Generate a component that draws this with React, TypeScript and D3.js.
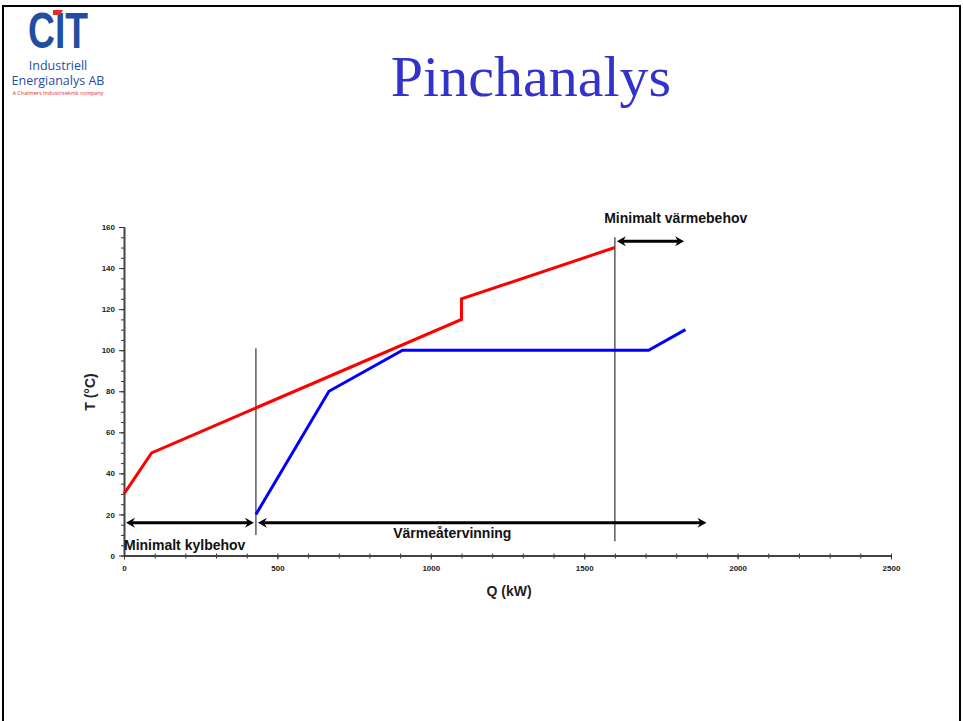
import React, { useRef, useEffect } from 'react';
import * as d3 from 'd3';

const hotCurve = [
  { q: 0, t: 30 },
  { q: 90, t: 50 },
  { q: 1100, t: 115 },
  { q: 1100, t: 125 },
  { q: 1600, t: 150 },
];

const coldCurve = [
  { q: 430, t: 20 },
  { q: 668, t: 80 },
  { q: 908, t: 100 },
  { q: 1710, t: 100 },
  { q: 1830, t: 110 },
];

const xTicks = [0, 500, 1000, 1500, 2000, 2500];
const yTicks = [0, 20, 40, 60, 80, 100, 120, 140, 160];

// vertical guide lines: q, from t, to t
const guides = [
  { q: 430, t0: 10, t1: 101 },
  { q: 1600, t0: 7, t1: 155 },
];

// double arrows
const arrows = [
  { q0: 0, q1: 430, t: 16 },
  { q0: 430, q1: 1905, t: 16 },
  { q0: 1600, q1: 1832, t: 153 },
];

const labels = [
  { text: 'Minimalt kylbehov', q: 0, t: 2.5, anchor: 'start' },
  { text: 'Värmeåtervinning', q: 1070, t: 8.5, anchor: 'middle' },
  { text: 'Minimalt värmebehov', q: 1565, t: 162, anchor: 'start' },
];

const W = 963;
const H = 721;

const App = () => {
  const ref = useRef(null);

  useEffect(() => {
    const root = d3.select(ref.current);
    root.selectAll('*').remove();

    const svg = root.append('svg')
      .attr('width', W)
      .attr('height', H)
      .style('position', 'absolute')
      .style('left', 0)
      .style('top', 0)
      .style('background', '#fff');

    // slide frame
    svg.append('rect')
      .attr('x', 3).attr('y', 6)
      .attr('width', 957).attr('height', H + 10)
      .attr('fill', 'none')
      .attr('stroke', '#000')
      .attr('stroke-width', 2);

    // logo
    const logo = svg.append('g');
    logo.append('text')
      .attr('x', 28).attr('y', 48)
      .attr('textLength', 60)
      .attr('lengthAdjust', 'spacingAndGlyphs')
      .attr('font-family', 'Liberation Sans, Arial')
      .attr('font-weight', 'bold')
      .attr('font-size', 50)
      .attr('fill', '#1f4ea3')
      .text('CIT');
    logo.append('path')
      .attr('d', 'M53,10 L63,10 L60,15 L53,15 Z')
      .attr('fill', '#e32b2b');
    logo.append('text')
      .attr('x', 58).attr('y', 70)
      .attr('text-anchor', 'middle')
      .attr('font-family', 'Open Sans, Liberation Sans, Arial')
      .attr('font-size', 12.5)
      .attr('fill', '#1f4ea3')
      .text('Industriell');
    logo.append('text')
      .attr('x', 58).attr('y', 85)
      .attr('text-anchor', 'middle')
      .attr('font-family', 'Open Sans, Liberation Sans, Arial')
      .attr('font-size', 12.5)
      .attr('fill', '#1f4ea3')
      .text('Energianalys AB');
    logo.append('text')
      .attr('x', 58).attr('y', 95)
      .attr('text-anchor', 'middle')
      .attr('font-family', 'Open Sans, Liberation Sans, Arial')
      .attr('font-size', 5.5)
      .attr('fill', '#e32b2b')
      .text('A Chalmers Industriteknik company');

    // title
    svg.append('text')
      .attr('x', 531).attr('y', 96)
      .attr('text-anchor', 'middle')
      .attr('font-family', 'Liberation Serif, Times New Roman, serif')
      .attr('font-size', 58)
      .attr('fill', '#3333cc')
      .text('Pinchanalys');

    const x = d3.scaleLinear().domain([0, 2500]).range([124, 891]);
    const y = d3.scaleLinear().domain([0, 160]).range([555.5, 227]);

    const tickFont = (g) => g.selectAll('text')
      .attr('font-family', 'Liberation Sans, Arial, sans-serif')
      .attr('font-weight', 'bold')
      .attr('font-size', 8)
      .attr('fill', '#222');

    // minor ticks x
    svg.append('g')
      .attr('transform', `translate(0,${y(0)})`)
      .call(d3.axisBottom(x).tickValues(d3.range(0, 2501, 100)).tickSize(3).tickFormat(() => ''))
      .call(g => g.select('.domain').remove())
      .call(g => g.selectAll('line').attr('y1', -2).attr('stroke', '#333'));

    svg.append('g')
      .attr('transform', `translate(0,${y(0)})`)
      .call(d3.axisBottom(x).tickValues(xTicks).tickSize(4).tickSizeOuter(0).tickPadding(6).tickFormat(d3.format('d')))
      .call(g => g.select('.domain').attr('stroke', '#444').attr('stroke-width', 2))
      .call(g => g.selectAll('line').attr('stroke', '#333'))
      .call(tickFont);

    // minor ticks y
    svg.append('g')
      .attr('transform', `translate(${x(0)},0)`)
      .call(d3.axisLeft(y).tickValues(d3.range(0, 161, 5)).tickSize(3).tickFormat(() => ''))
      .call(g => g.select('.domain').remove())
      .call(g => g.selectAll('line').attr('x1', 1).attr('stroke', '#333'));

    svg.append('g')
      .attr('transform', `translate(${x(0)},0)`)
      .call(d3.axisLeft(y).tickValues(yTicks).tickSize(5).tickSizeOuter(0).tickPadding(4).tickFormat(d3.format('d')))
      .call(g => g.select('.domain').attr('stroke', '#444').attr('stroke-width', 2))
      .call(g => g.selectAll('line').attr('stroke', '#333'))
      .call(tickFont);

    // axis titles
    svg.append('text')
      .attr('x', 509).attr('y', 596)
      .attr('text-anchor', 'middle')
      .attr('font-family', 'Liberation Sans, Arial, sans-serif')
      .attr('font-weight', 'bold')
      .attr('font-size', 14)
      .attr('fill', '#222')
      .text('Q (kW)');

    svg.append('text')
      .attr('transform', `translate(95,392) rotate(-90)`)
      .attr('text-anchor', 'middle')
      .attr('font-family', 'Liberation Sans, Arial, sans-serif')
      .attr('font-weight', 'bold')
      .attr('font-size', 14)
      .attr('fill', '#222')
      .text('T (°C)');

    // guides
    svg.selectAll('.guide')
      .data(guides)
      .enter()
      .append('line')
      .attr('class', 'guide')
      .attr('x1', d => x(d.q)).attr('x2', d => x(d.q))
      .attr('y1', d => y(d.t0)).attr('y2', d => y(d.t1))
      .attr('stroke', '#333')
      .attr('stroke-width', 1.2);

    // curves
    const line = d3.line().x(d => x(d.q)).y(d => y(d.t));
    svg.append('path')
      .datum(hotCurve)
      .attr('d', line)
      .attr('fill', 'none')
      .attr('stroke', '#ff0000')
      .attr('stroke-width', 3)
      .attr('stroke-linejoin', 'miter');
    svg.append('path')
      .datum(coldCurve)
      .attr('d', line)
      .attr('fill', 'none')
      .attr('stroke', '#0000ff')
      .attr('stroke-width', 3);

    // arrows
    const head = 'M0,0 L-9,-5 L-6,0 L-9,5 Z';
    arrows.forEach(a => {
      const x0 = x(a.q0) + 2;
      const x1 = x(a.q1) - 2;
      const yy = y(a.t);
      svg.append('line')
        .attr('x1', x0 + 4).attr('x2', x1 - 4)
        .attr('y1', yy).attr('y2', yy)
        .attr('stroke', '#000')
        .attr('stroke-width', 3);
      svg.append('path')
        .attr('d', head)
        .attr('transform', `translate(${x1},${yy})`)
        .attr('fill', '#000');
      svg.append('path')
        .attr('d', head)
        .attr('transform', `translate(${x0},${yy}) rotate(180)`)
        .attr('fill', '#000');
    });

    svg.selectAll('.lbl')
      .data(labels)
      .enter()
      .append('text')
      .attr('class', 'lbl')
      .attr('x', d => x(d.q))
      .attr('y', d => y(d.t))
      .attr('text-anchor', d => d.anchor)
      .attr('font-family', 'Liberation Sans, Arial, sans-serif')
      .attr('font-weight', 'bold')
      .attr('font-size', 14)
      .attr('fill', '#111')
      .text(d => d.text);
  }, []);

  return <div ref={ref} />;
};

export default App;
